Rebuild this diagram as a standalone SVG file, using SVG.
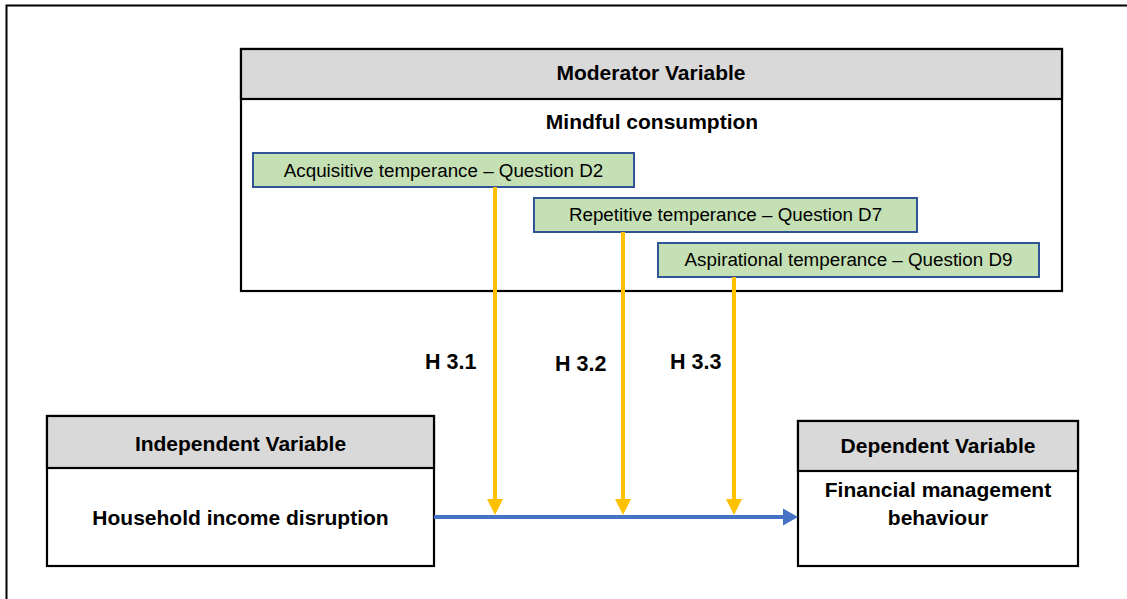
<svg xmlns="http://www.w3.org/2000/svg" width="1127" height="599" viewBox="0 0 1127 599">
<defs>
<style>
.box{fill:#ffffff;stroke:#000000;stroke-width:2.2}
.hdr{fill:#d9d9d9;stroke:#000000;stroke-width:2.2}
.grn{fill:#c5e0b4;stroke:#2f5597;stroke-width:2}
.b{font-family:"Liberation Sans",Arial,sans-serif;font-weight:bold;font-size:21px;fill:#000;text-anchor:middle}
.r{font-family:"Liberation Sans",Arial,sans-serif;font-size:18.8px;fill:#000;text-anchor:middle}
.h{font-family:"Liberation Sans",Arial,sans-serif;font-weight:bold;font-size:21.5px;fill:#000}
.ol{stroke:#ffc000;stroke-width:4;fill:none}
.oh{fill:#ffc000}
</style>
</defs>
<rect x="6.5" y="5.5" width="1200" height="700" fill="#ffffff" stroke="#000000" stroke-width="2"/>
<g id="moderator">
<rect class="box" x="241" y="49" width="821" height="242"/>
<rect class="hdr" x="241" y="49" width="821" height="50"/>
<text class="b" x="651" y="80">Moderator Variable</text>
<text class="b" x="652" y="129">Mindful consumption</text>
</g>
<g id="acquisitive">
<rect class="grn" x="253" y="153" width="381" height="34"/>
<text class="r" x="443.5" y="177">Acquisitive temperance – Question D2</text>
</g>
<g id="repetitive">
<rect class="grn" x="534" y="198" width="383" height="34"/>
<text class="r" x="725.5" y="221">Repetitive temperance – Question D7</text>
</g>
<g id="aspirational">
<rect class="grn" x="658" y="243" width="381" height="34"/>
<text class="r" x="848.5" y="266">Aspirational temperance – Question D9</text>
</g>
<g id="independent">
<rect class="box" x="47" y="416" width="387" height="150"/>
<rect class="hdr" x="47" y="416" width="387" height="52"/>
<text class="b" x="240.5" y="451">Independent Variable</text>
<text class="b" x="240.5" y="525">Household income disruption</text>
</g>
<g id="dependent">
<rect class="box" x="798" y="421" width="280" height="145"/>
<rect class="hdr" x="798" y="421" width="280" height="50"/>
<text class="b" x="938" y="453">Dependent Variable</text>
<text class="b" x="938" y="497">Financial management</text>
<text class="b" x="938" y="525">behaviour</text>
</g>
<g id="connectors">
<line x1="434" y1="517" x2="784" y2="517" stroke="#4472c4" stroke-width="4"/>
<polygon points="783,508.5 798,517 783,525.5" fill="#4472c4"/>
<line class="ol" x1="495" y1="187" x2="495" y2="500"/>
<polygon class="oh" points="487,499 503,499 495,515"/>
<line class="ol" x1="623" y1="232" x2="623" y2="500"/>
<polygon class="oh" points="615,499 631,499 623,515"/>
<line class="ol" x1="734" y1="277" x2="734" y2="500"/>
<polygon class="oh" points="726,499 742,499 734,515"/>
<text class="h" x="425" y="369">H 3.1</text>
<text class="h" x="555" y="371">H 3.2</text>
<text class="h" x="670" y="369">H 3.3</text>
</g>
</svg>
